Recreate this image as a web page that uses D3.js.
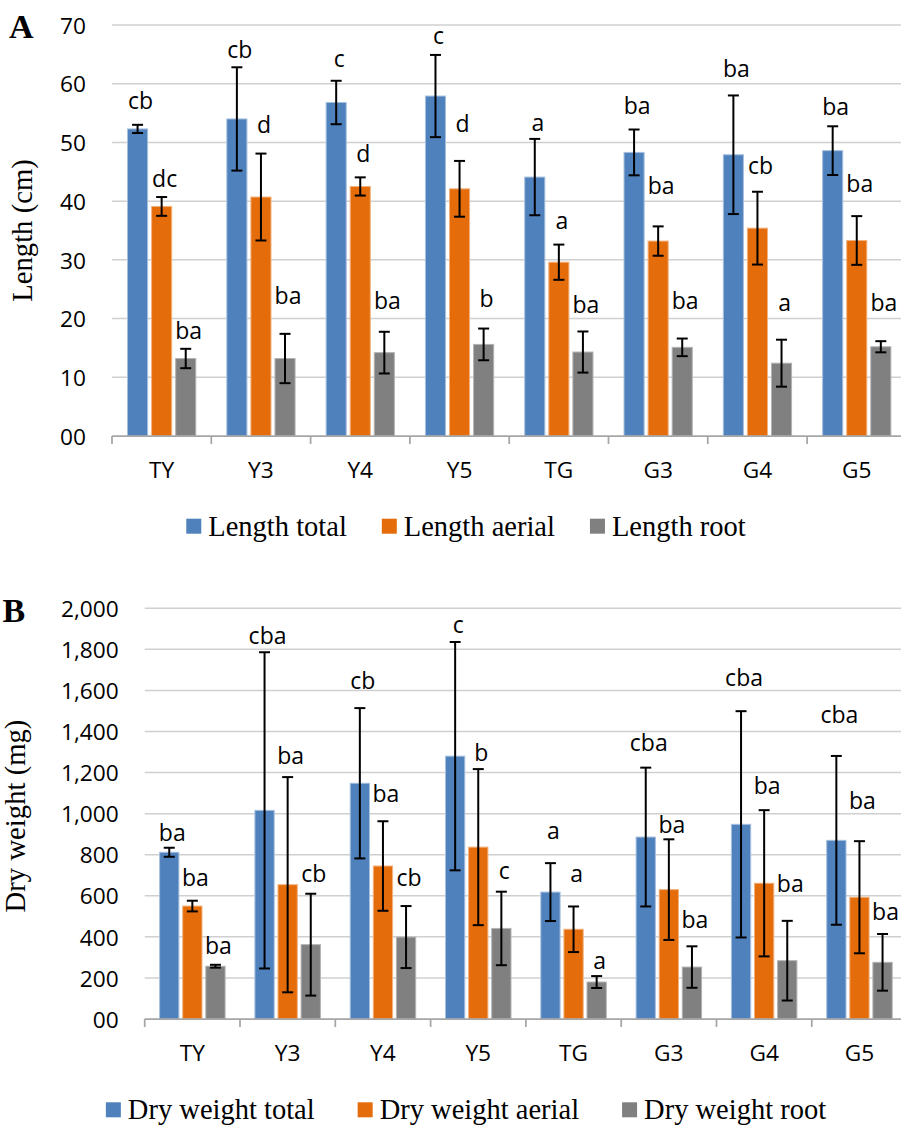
<!DOCTYPE html>
<html><head><meta charset="utf-8">
<script src="https://cdn.jsdelivr.net/npm/d3@7"></script>
<style>body{margin:0;background:#fff}svg{display:block;background:#fff}</style>
</head><body><svg id="chart" width="901" height="1125"></svg>
<script>
// ---------- data ----------
const categories = ["TY", "Y3", "Y4", "Y5", "TG", "G3", "G4", "G5"];

// Panel A: length (cm)
const lengthSeriesNames = ["Length total", "Length aerial", "Length root"];
const lengthTicks = [0, 10, 20, 30, 40, 50, 60, 70];
const lengthTotal      = [52.3, 54.0, 56.8, 57.9, 44.1, 48.3, 47.9, 48.6];
const lengthTotalErr   = [0.7, 8.8, 3.7, 7.0, 6.5, 3.9, 10.1, 4.15];
const lengthAerial     = [39.1, 40.7, 42.5, 42.1, 29.6, 33.2, 35.4, 33.3];
const lengthAerialErr  = [1.6, 7.4, 1.55, 4.75, 3.0, 2.5, 6.2, 4.15];
const lengthRoot       = [13.2, 13.2, 14.2, 15.6, 14.3, 15.1, 12.4, 15.2];
const lengthRootErr    = [1.65, 4.2, 3.55, 2.7, 3.5, 1.5, 4.0, 0.95];
const lengthTotalLetters  = ["cb", "cb", "c", "c", "a", "ba", "ba", "ba"];
const lengthAerialLetters = ["dc", "d", "d", "d", "a", "ba", "cb", "ba"];
const lengthRootLetters   = ["ba", "ba", "ba", "b", "ba", "ba", "a", "ba"];
// level (in cm) at which each letter label sits
const lengthTotalLabelAt  = [55.7, 64.3, 62.9, 66.7, 52.0, 54.9, 61.2, 54.7];
const lengthAerialLabelAt = [42.4, 51.6, 46.7, 51.8, 35.2, 41.2, 44.6, 41.5];
const lengthRootLabelAt   = [16.5, 22.4, 21.6, 21.9, 20.9, 21.7, 21.3, 21.3];

// Panel B: dry weight (mg)
const drySeriesNames = ["Dry weight total", "Dry weight aerial", "Dry weight root"];
const dryTicks = [0, 200, 400, 600, 800, 1000, 1200, 1400, 1600, 1800, 2000];
const dryTotal      = [812, 1016, 1148, 1280, 618, 886, 948, 870];
const dryTotalErr   = [22, 770, 366, 556, 141, 338, 551, 411];
const dryAerial     = [550, 654, 745, 837, 437, 630, 661, 593];
const dryAerialErr  = [26, 524, 218, 380, 111, 245, 356, 273];
const dryRoot       = [257, 362, 399, 441, 180, 253, 284, 276];
const dryRootErr    = [7, 248, 151, 179, 29, 101, 194, 138];
const dryTotalLetters  = ["ba", "cba", "cb", "c", "a", "cba", "cba", "cba"];
const dryAerialLetters = ["ba", "ba", "ba", "b", "a", "ba", "ba", "ba"];
const dryRootLetters   = ["ba", "cb", "cb", "c", "a", "ba", "ba", "ba"];
const dryTotalLabelAt  = [868, 1824, 1605, 1878, 875, 1306, 1621, 1442];
const dryAerialLabelAt = [649, 1240, 1058, 1258, 666, 907, 1094, 1024];
const dryRootLabelAt   = [315, 669, 649, 680, 242, 443, 617, 482];

// ---------- styles ----------
const colors = ["#4f81bd", "#e46c0a", "#808080"];
const edgeColors = ["#a7c0de", "#f2b27e", "#b3b3b3"];
const sansFont = "'Open Sans', sans-serif";
const serifFont = "'Liberation Serif', 'Times New Roman', serif";

const svg = d3.select("#chart");

function drawPanel(p) {
  const g = svg.append("g");
  const x0 = d3.scaleBand().domain(categories)
    .range([p.left, p.left + p.step * categories.length]).padding(0);
  const x1 = d3.scaleBand().domain([0, 1, 2])
    .range([0, x0.bandwidth()]).paddingInner(0.165).paddingOuter(0.645);
  const y = d3.scaleLinear().domain([0, d3.max(p.ticks)]).range([p.bottom, p.top]);

  // gridlines
  g.append("g").selectAll("line").data(p.ticks.filter(t => t > 0)).join("line")
    .attr("x1", p.left).attr("x2", 901)
    .attr("y1", d => y(d)).attr("y2", d => y(d))
    .attr("stroke", "#d0d0d0").attr("stroke-width", 1.5);

  // y axis labels
  const ya = g.append("g").attr("transform", `translate(${p.left},0)`)
    .call(d3.axisLeft(y).tickValues(p.ticks).tickSize(0).tickPadding(26).tickFormat(p.fmt));
  ya.select(".domain").remove();
  ya.selectAll("text").attr("font-family", sansFont).attr("font-size", 22.7)
    .attr("fill", "#000").attr("dy", "0.36em");

  // bars
  p.series.forEach((s, si) => {
    g.append("g").selectAll("rect").data(s.values).join("rect")
      .attr("x", (d, i) => x0(categories[i]) + x1(si))
      .attr("width", x1.bandwidth())
      .attr("y", d => y(d))
      .attr("height", d => y(0) - y(d))
      .attr("fill", colors[si])
      .attr("stroke", edgeColors[si]).attr("stroke-width", 1);
  });

  // x axis line + ticks + labels
  g.append("line").attr("x1", p.left).attr("x2", 901)
    .attr("y1", y(0)).attr("y2", y(0))
    .attr("stroke", "#a6a6a6").attr("stroke-width", 1.75);
  const bounds = categories.map(c => x0(c)).concat([x0.range()[1]]);
  g.append("g").selectAll("line").data(bounds).join("line")
    .attr("x1", d => d).attr("x2", d => d)
    .attr("y1", y(0)).attr("y2", y(0) + 8)
    .attr("stroke", "#a6a6a6").attr("stroke-width", 1.75);
  const xa = g.append("g").attr("transform", `translate(0,${y(0)})`)
    .call(d3.axisBottom(x0).tickSize(0));
  xa.select(".domain").remove();
  xa.selectAll("text").attr("font-family", sansFont).attr("font-size", 22.7)
    .attr("fill", "#000").attr("y", 42).attr("dy", null);

  // error bars
  p.series.forEach((s, si) => {
    const eg = g.append("g").attr("stroke", "#000").attr("stroke-width", 2);
    s.values.forEach((v, i) => {
      const cx = x0(categories[i]) + x1(si) + x1.bandwidth() / 2;
      const e = s.err[i];
      const y1 = y(v + e), y2 = y(Math.max(0, v - e));
      eg.append("line").attr("x1", cx).attr("x2", cx).attr("y1", y1).attr("y2", y2);
      eg.append("line").attr("x1", cx - 5.5).attr("x2", cx + 5.5).attr("y1", y1).attr("y2", y1);
      eg.append("line").attr("x1", cx - 5.5).attr("x2", cx + 5.5).attr("y1", y2).attr("y2", y2);
    });
  });

  // letter labels
  p.series.forEach((s, si) => {
    g.append("g").selectAll("text").data(s.letters).join("text")
      .attr("x", (d, i) => x0(categories[i]) + x1(si) + x1.bandwidth() / 2 + 3)
      .attr("y", (d, i) => y(s.labelAt[i]))
      .attr("text-anchor", "middle")
      .attr("font-family", sansFont).attr("font-size", 23)
      .attr("fill", "#000")
      .text(d => d);
  });

  // axis title
  g.append("text")
    .attr("transform", `translate(${p.titleX},${p.titleY}) rotate(-90)`)
    .attr("text-anchor", "middle")
    .attr("font-family", serifFont).attr("font-size", 28.7).attr("fill", "#000")
    .text(p.title);

  // panel letter
  g.append("text").attr("x", p.letterX).attr("y", p.letterY)
    .attr("font-family", serifFont).attr("font-weight", "bold").attr("font-size", 34)
    .attr("fill", "#000").text(p.letter);

  // legend
  const lg = g.append("g");
  const items = p.series.map((s, si) => {
    const it = lg.append("g");
    it.append("rect").attr("x", 0).attr("y", -17).attr("width", 15).attr("height", 15)
      .attr("fill", colors[si]);
    const t = it.append("text").attr("x", 22).attr("y", 0)
      .attr("font-family", serifFont).attr("font-size", 28.5).attr("fill", "#000")
      .text(s.name);
    return { it, w: 22 + t.node().getComputedTextLength() };
  });
  const total = d3.sum(items, d => d.w) + p.legendGap * (items.length - 1);
  let cx = p.legendCenter - total / 2;
  items.forEach(d => {
    d.it.attr("transform", `translate(${cx},${p.legendY})`);
    cx += d.w + p.legendGap;
  });
}

drawPanel({
  left: 112, step: 99.3, top: 25, bottom: 436,
  ticks: lengthTicks, fmt: d3.format("02d"),
  series: [
    { name: lengthSeriesNames[0], values: lengthTotal, err: lengthTotalErr, letters: lengthTotalLetters, labelAt: lengthTotalLabelAt },
    { name: lengthSeriesNames[1], values: lengthAerial, err: lengthAerialErr, letters: lengthAerialLetters, labelAt: lengthAerialLabelAt },
    { name: lengthSeriesNames[2], values: lengthRoot, err: lengthRootErr, letters: lengthRootLetters, labelAt: lengthRootLabelAt }
  ],
  title: "Length (cm)", titleX: 32, titleY: 230.5,
  letter: "A", letterX: 9, letterY: 38.3,
  legendY: 535.7, legendCenter: 466, legendGap: 35
});

drawPanel({
  left: 144.7, step: 95.3, top: 608.3, bottom: 1019,
  ticks: dryTicks, fmt: d => d === 0 ? "00" : d3.format(",")(d),
  series: [
    { name: drySeriesNames[0], values: dryTotal, err: dryTotalErr, letters: dryTotalLetters, labelAt: dryTotalLabelAt },
    { name: drySeriesNames[1], values: dryAerial, err: dryAerialErr, letters: dryAerialLetters, labelAt: dryAerialLabelAt },
    { name: drySeriesNames[2], values: dryRoot, err: dryRootErr, letters: dryRootLetters, labelAt: dryRootLabelAt }
  ],
  title: "Dry weight (mg)", titleX: 25, titleY: 816,
  letter: "B", letterX: 2.5, letterY: 621.7,
  legendY: 1119.3, legendCenter: 466, legendGap: 43
});
</script>
</body></html>
